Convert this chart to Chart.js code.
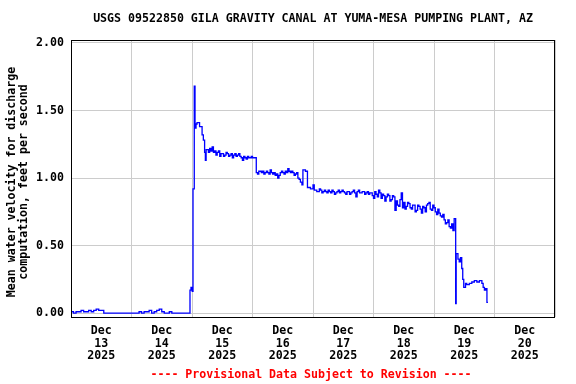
<!DOCTYPE html>
<html>
<head>
<meta charset="utf-8">
<script src="https://cdn.jsdelivr.net/npm/chart.js@4/dist/chart.umd.min.js"></script>
<style>
  html, body { margin: 0; padding: 0; background: #ffffff; }
  #wrap { width: 576px; height: 384px; position: relative; }
</style>
</head>
<body>
<div id="wrap"><canvas id="c" width="576" height="384"></canvas></div>
<script>
const chartTitle = "USGS 09522850 GILA GRAVITY CANAL AT YUMA-MESA PUMPING PLANT, AZ";
const yTitleLines = ["Mean water velocity for discharge", "computation, feet per second"];
const footerText = "---- Provisional Data Subject to Revision ----";
const monthLabel = "Dec";
const yearLabel = "2025";
const dayLabels = ["13", "14", "15", "16", "17", "18", "19", "20"];
const yTickValues = [0, 0.5, 1.0, 1.5, 2.0];

// hours since Dec 13 2025 00:00
const hours = [
  0, 1, 2, 3, 4, 5, 6, 7, 8, 9, 10, 11, 12, 13,
  27, 28, 29, 30, 31, 32, 33, 34, 35, 36, 37, 39, 40,
  47.2, 47.6, 48.1, 48.4, 48.9, 49.2, 49.6, 50, 51, 52, 52.5, 53, 53.3, 53.6,
  54, 54.5, 55, 55.5, 56, 56.5, 57, 57.5, 58, 58.5, 59, 59.5, 60, 60.5, 61, 61.5, 62, 62.5,
  63, 63.5, 64, 64.5, 65, 65.5, 66, 66.5, 67, 67.5, 68, 68.5, 69, 69.5, 70, 70.5, 71, 71.5, 72,
  73.5, 74, 74.5, 75, 75.5, 76, 76.5, 77, 77.5, 78, 78.5, 79, 79.5, 80, 80.5, 81, 81.5, 82, 82.5,
  83, 83.5, 84, 84.5, 85, 85.5, 86, 86.5, 87, 87.5, 88, 88.5, 89, 89.5, 90, 90.5, 91, 91.6, 92, 93,
  93.8, 95, 96, 96.5, 97, 97.5, 98, 98.5, 99, 99.5, 100, 100.5, 101, 101.5, 102, 102.5, 103, 103.5,
  104, 104.5, 105, 105.5, 106, 106.5, 107, 107.5, 108, 108.5, 109, 109.5, 110, 110.5, 111, 111.5,
  112, 112.5, 113, 113.5, 114, 114.5, 115, 115.5, 116, 116.5, 117, 117.5, 118, 118.5, 119, 119.5,
  120, 120.5, 121, 121.5, 122, 122.5, 123, 123.5, 124, 124.5, 125, 125.5, 126, 126.5, 127, 127.5,
  128, 128.5, 129, 129.5, 130, 130.5, 131, 131.5, 132, 132.5, 133, 133.5, 134, 134.5, 135, 135.5,
  136, 136.5, 137, 137.5, 138, 138.5, 139, 139.5, 140, 140.5, 141, 141.5, 142, 142.5, 143, 143.5,
  144, 144.5, 145, 145.5, 146, 146.5, 147, 147.5, 148, 148.5, 149, 149.5, 150, 150.5, 151, 151.5,
  152, 152.6, 152.8, 153.5, 154, 154.5, 155, 155.4, 155.8,
  156.5, 157, 158, 159, 160, 161, 162, 163, 163.5, 164, 164.5, 165, 165.4
];
const velocity = [
  0.01, 0.00, 0.01, 0.01, 0.02, 0.01, 0.01, 0.02, 0.01, 0.02, 0.03, 0.02, 0.02, 0.00,
  0.01, 0.00, 0.01, 0.01, 0.02, 0.00, 0.01, 0.02, 0.03, 0.01, 0.00, 0.01, 0.00,
  0.17, 0.19, 0.16, 0.92, 1.68, 1.37, 1.40, 1.41, 1.38, 1.32, 1.28, 1.19, 1.13, 1.21,
  1.21, 1.19, 1.22, 1.20, 1.23, 1.19, 1.20, 1.17, 1.19, 1.20, 1.16, 1.18, 1.18, 1.16, 1.17, 1.19, 1.18, 1.16,
  1.17, 1.18, 1.15, 1.17, 1.18, 1.16, 1.17, 1.18, 1.16, 1.15, 1.13, 1.16, 1.15, 1.14, 1.16, 1.15, 1.15, 1.16, 1.15,
  1.04, 1.03, 1.05, 1.05, 1.04, 1.05, 1.03, 1.04, 1.05, 1.04, 1.03, 1.06, 1.04, 1.03, 1.04, 1.02, 1.03, 1.00, 1.02,
  1.04, 1.05, 1.04, 1.03, 1.05, 1.04, 1.07, 1.05, 1.04, 1.05, 1.04, 1.02, 1.03, 1.04, 1.00, 0.99, 0.97, 0.95, 1.06, 1.05,
  0.93, 0.92, 0.95, 0.91, 0.91, 0.90, 0.90, 0.92, 0.91, 0.89, 0.90, 0.91, 0.90, 0.89, 0.91, 0.90, 0.89, 0.91,
  0.90, 0.88, 0.89, 0.90, 0.91, 0.89, 0.90, 0.91, 0.90, 0.89, 0.88, 0.90, 0.90, 0.88, 0.89, 0.90,
  0.91, 0.89, 0.86, 0.90, 0.91, 0.89, 0.89, 0.90, 0.90, 0.88, 0.89, 0.90, 0.88, 0.89, 0.89, 0.87,
  0.85, 0.90, 0.88, 0.86, 0.91, 0.89, 0.85, 0.88, 0.87, 0.83, 0.86, 0.88, 0.87, 0.83, 0.84, 0.87,
  0.86, 0.76, 0.83, 0.80, 0.79, 0.84, 0.89, 0.78, 0.82, 0.77, 0.79, 0.82, 0.81, 0.78, 0.77, 0.80,
  0.80, 0.75, 0.76, 0.80, 0.79, 0.77, 0.74, 0.79, 0.78, 0.75, 0.80, 0.81, 0.82, 0.77, 0.76, 0.80,
  0.78, 0.75, 0.73, 0.77, 0.74, 0.72, 0.71, 0.73, 0.69, 0.66, 0.67, 0.69, 0.64, 0.63, 0.66, 0.61,
  0.70, 0.07, 0.44, 0.40, 0.38, 0.41, 0.33, 0.25, 0.19,
  0.22, 0.21, 0.22, 0.23, 0.24, 0.23, 0.24, 0.22, 0.19, 0.17, 0.18, 0.08, 0.08
];

const FONT = "'DejaVu Sans Mono', 'Liberation Mono', monospace";
const points = hours.map((h, i) => ({ x: h, y: velocity[i] }));

const decorPlugin = {
  id: 'decor',
  afterDraw(chart) {
    const ctx = chart.ctx;
    const a = chart.chartArea;
    ctx.save();
    ctx.strokeStyle = '#000000';
    ctx.lineWidth = 1;
    ctx.strokeRect(a.left + 0.5, a.top + 0.5, a.right - a.left - 1, a.bottom - a.top);
    ctx.fillStyle = '#000000';
    ctx.font = "bold 11.6px " + FONT;
    ctx.textAlign = 'center';
    ctx.textBaseline = 'middle';
    ctx.fillText(chartTitle, (a.left + a.right) / 2, 19);
    ctx.fillStyle = '#ff0000';
    ctx.fillText(footerText, (a.left + a.right) / 2 - 2, 375);
    ctx.fillStyle = '#000000';
    ctx.translate(0, 182);
    ctx.rotate(-Math.PI / 2);
    ctx.fillText(yTitleLines[0], 0, 12);
    ctx.fillText(yTitleLines[1], 0, 24);
    ctx.restore();
  }
};

new Chart(document.getElementById('c'), {
  type: 'line',
  data: {
    datasets: [{
      data: points,
      borderColor: '#0000ff',
      borderWidth: 1.3,
      pointRadius: 0,
      stepped: true,
      fill: false
    }]
  },
  options: {
    responsive: false,
    animation: false,
    events: [],
    layout: { padding: { top: 40, right: 21, left: 0, bottom: 0 } },
    plugins: { legend: { display: false }, tooltip: { enabled: false }, title: { display: false } },
    scales: {
      x: {
        type: 'linear',
        min: 0,
        max: 192,
        afterBuildTicks(scale) {
          const t = [];
          for (let v = 0; v <= 192; v += 12) t.push({ value: v });
          scale.ticks = t;
        },
        afterFit(scale) { scale.height = 67; },
        border: { display: false },
        grid: {
          drawTicks: false,
          color: (c) => (c.tick && c.tick.value % 24 === 0) ? '#cccccc' : 'rgba(0,0,0,0)',
          lineWidth: 1
        },
        ticks: {
          autoSkip: false,
          maxRotation: 0,
          minRotation: 0,
          padding: 7,
          color: '#000000',
          font: { family: FONT, size: 11.6, weight: 'bold', lineHeight: 1.12 },
          callback: (v) => {
            if (v % 24 === 12) {
              const d = dayLabels[(v - 12) / 24];
              return [monthLabel, d, yearLabel];
            }
            return '';
          }
        }
      },
      y: {
        min: -0.029,
        max: 2.022,
        afterBuildTicks(scale) { scale.ticks = yTickValues.map(v => ({ value: v })); },
        afterFit(scale) { scale.width = 71; },
        border: { display: false },
        grid: { drawTicks: false, color: '#cccccc', lineWidth: 1 },
        ticks: {
          padding: 7,
          color: '#000000',
          font: { family: FONT, size: 11.6, weight: 'bold' },
          callback: (v) => Number(v).toFixed(2)
        }
      }
    }
  },
  plugins: [decorPlugin]
});
</script>
</body>
</html>
